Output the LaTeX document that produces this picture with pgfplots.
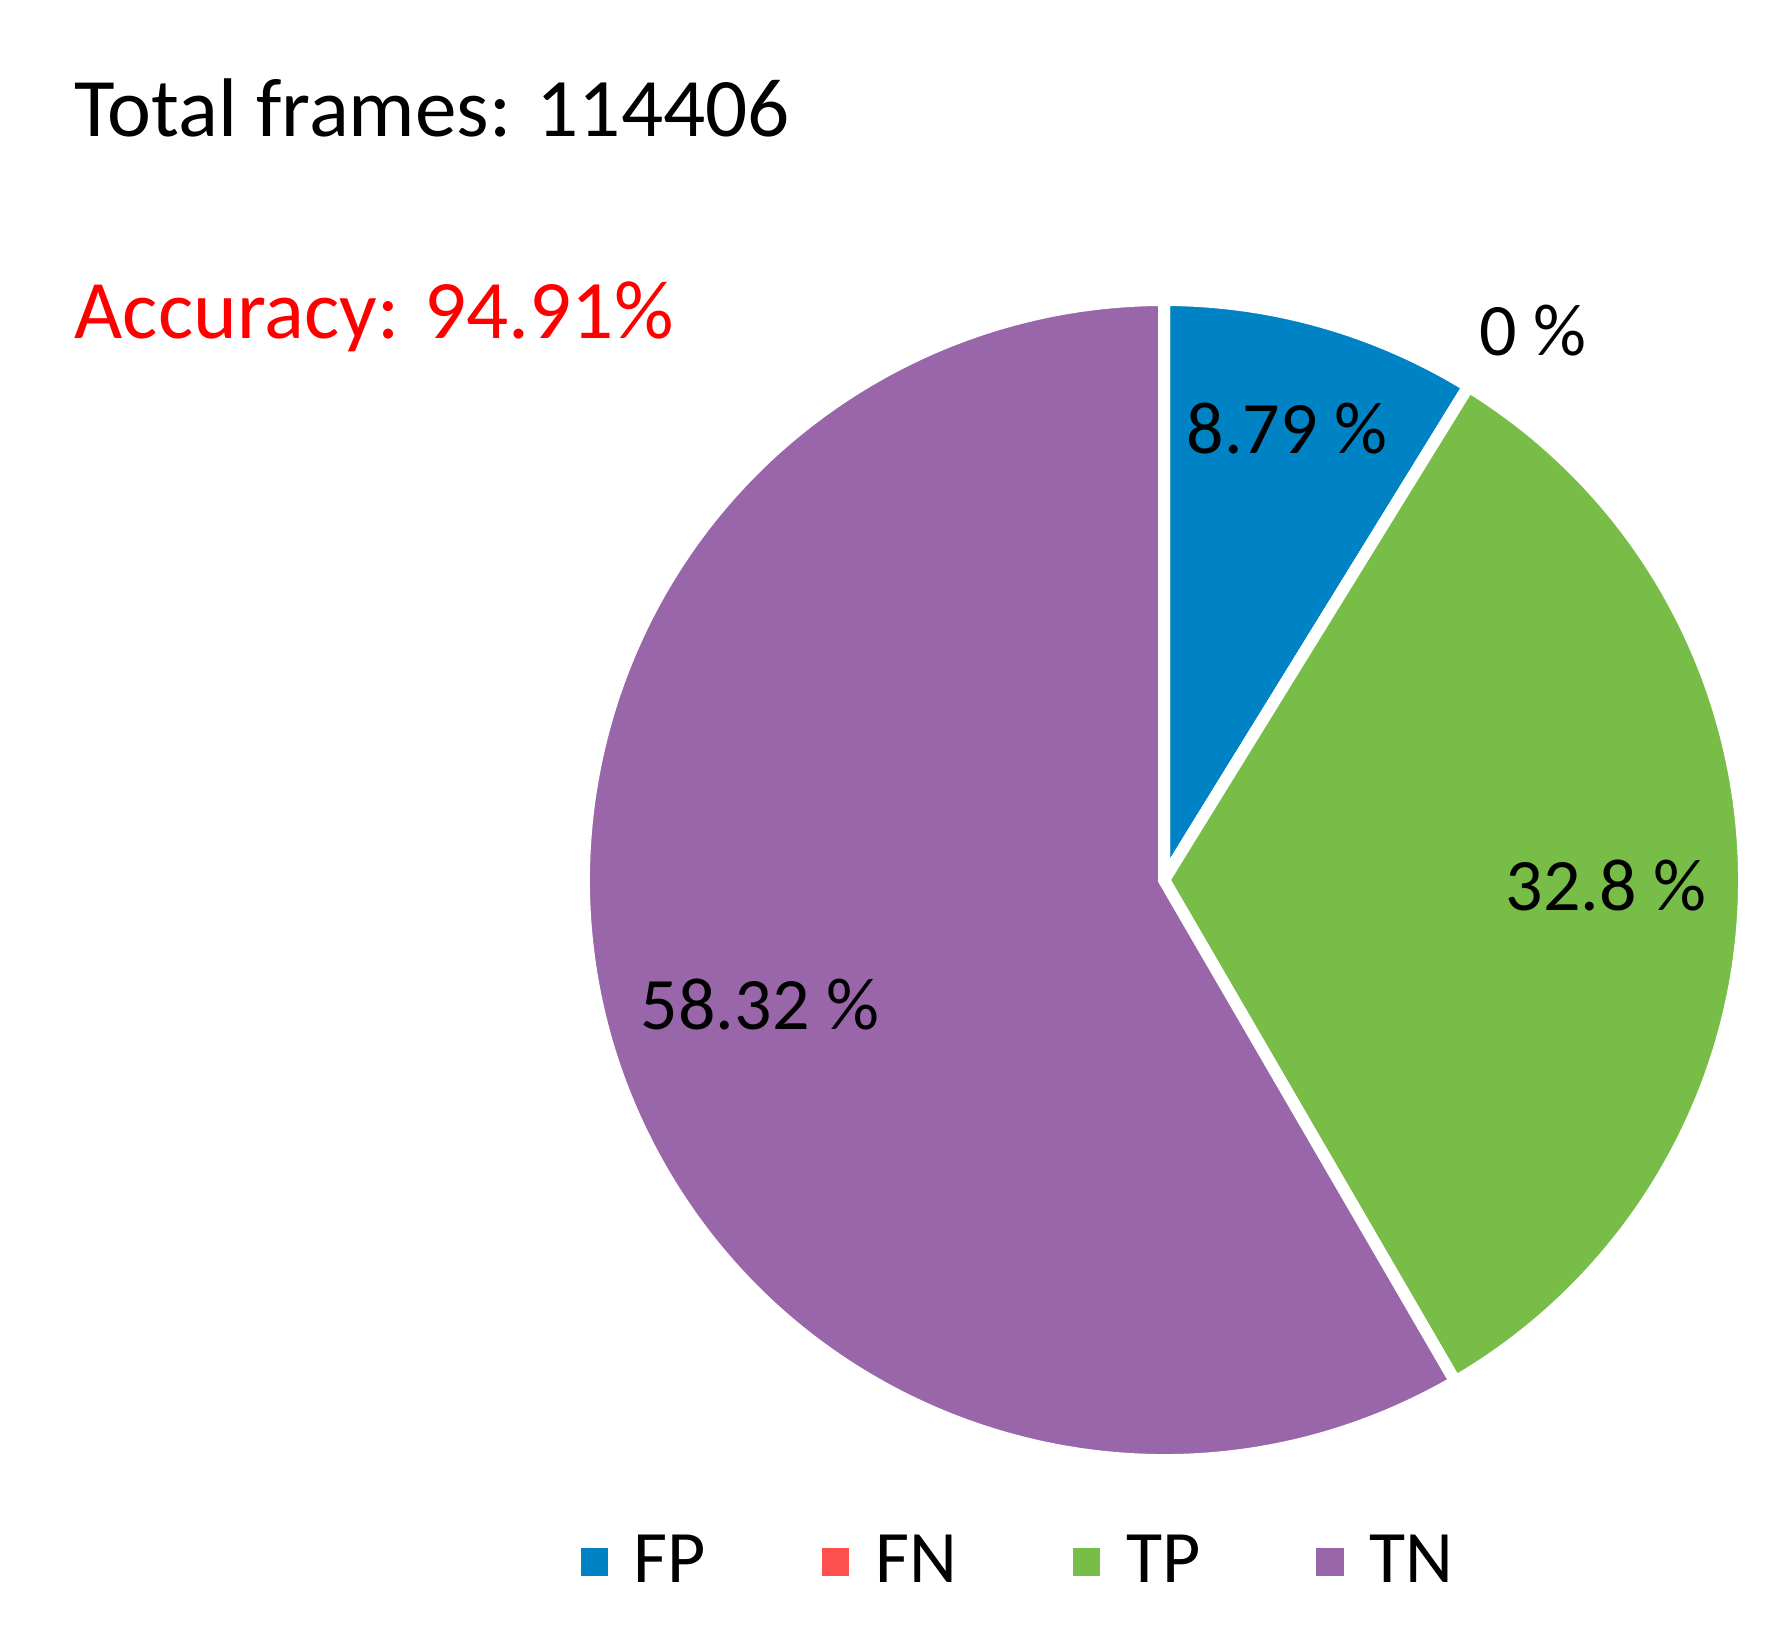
\documentclass[border=0pt]{standalone}
\usepackage{pgfplots}
\usepackage{pgfplotstable}
\usepackage{fontspec}
\setmainfont{Carlito}
\pgfplotsset{compat=1.18}

\definecolor{fpblue}{RGB}{0,131,196}
\definecolor{fnred}{RGB}{255,80,80}
\definecolor{tpgreen}{RGB}{119,189,71}
\definecolor{tnpurple}{RGB}{153,102,170}

\pgfplotstableread{
class share
FP 8.79
FN 0
TP 32.8
TN 58.32
}\piedata

% one sector: start angle, end angle, colour (clockwise from the top)
\newcommand\slice[3]{\fill[#3, draw=white, line width=3pt]
  (axis cs:1164,880) -- ++(#1:145pt) arc[start angle=#1, end angle=#2, radius=145pt] -- cycle;}

\begin{document}%
\pgfplotstablegetelem{0}{share}\of\piedata\let\sFP\pgfplotsretval%
\pgfplotstablegetelem{1}{share}\of\piedata\let\sFN\pgfplotsretval%
\pgfplotstablegetelem{2}{share}\of\piedata\let\sTP\pgfplotsretval%
\pgfplotstablegetelem{3}{share}\of\piedata\let\sTN\pgfplotsretval%
\pgfmathsetmacro\total{\sFP+\sFN+\sTP+\sTN}%
\pgfmathsetmacro\aFP{90-\sFP/\total*360}%
\pgfmathsetmacro\aFN{\aFP-\sFN/\total*360}%
\pgfmathsetmacro\aTP{\aFN-\sTP/\total*360}%
\pgfmathsetmacro\aTN{\aTP-\sTN/\total*360}%
\begin{tikzpicture}
\begin{axis}[
    width=447.5pt, height=408.25pt, scale only axis,
    xmin=0, xmax=1790, ymin=0, ymax=1633, y dir=reverse,
    hide axis, clip=false,
    legend columns=4,
    legend style={at={(axis cs:1021,1562)}, anchor=center, draw=none, fill=none,
        font=\fontsize{18.5}{22}\selectfont,
        /tikz/every odd column/.append style={column sep=4.5pt},
        /tikz/every even column/.append style={column sep=27pt}},
]
\addplot[draw=none, forget plot] coordinates {(0,0) (1790,1633)};
\coordinate (bl) at (axis cs:0,1633);
\coordinate (tr) at (axis cs:1790,0);

\slice{90}{\aFP}{fpblue}
\slice{\aFP}{\aFN}{fnred}
\slice{\aFN}{\aTP}{tpgreen}
\slice{\aTP}{\aTN}{tnpurple}

\node[font=\fontsize{18.5}{22}\selectfont] at (axis cs:1287,429) {8.79 \%};
\node[font=\fontsize{18.5}{22}\selectfont] at (axis cs:1533,331) {0 \%};
\node[font=\fontsize{18.5}{22}\selectfont] at (axis cs:1606,886) {32.8 \%};
\node[font=\fontsize{18.5}{22}\selectfont] at (axis cs:760,1005) {58.32 \%};

\node[anchor=base west, inner sep=0pt, font=\fontsize{20.8}{24}\selectfont]
    at (axis cs:74,137) {Total frames: 114406};
\node[anchor=base west, inner sep=0pt, text=red, font=\fontsize{20.8}{24}\selectfont]
    at (axis cs:74,339) {Accuracy: 94.91\%};

\addlegendimage{legend image code/.code={\fill[fpblue] (0pt,-3.2pt) rectangle (6.4pt,3.2pt);}}
\addlegendentry{FP}
\addlegendimage{legend image code/.code={\fill[fnred] (0pt,-3.2pt) rectangle (6.4pt,3.2pt);}}
\addlegendentry{FN}
\addlegendimage{legend image code/.code={\fill[tpgreen] (0pt,-3.2pt) rectangle (6.4pt,3.2pt);}}
\addlegendentry{TP}
\addlegendimage{legend image code/.code={\fill[tnpurple] (0pt,-3.2pt) rectangle (6.4pt,3.2pt);}}
\addlegendentry{TN}
\end{axis}
\pgfresetboundingbox
\path[use as bounding box] (bl) rectangle (tr);
\end{tikzpicture}%
\end{document}
